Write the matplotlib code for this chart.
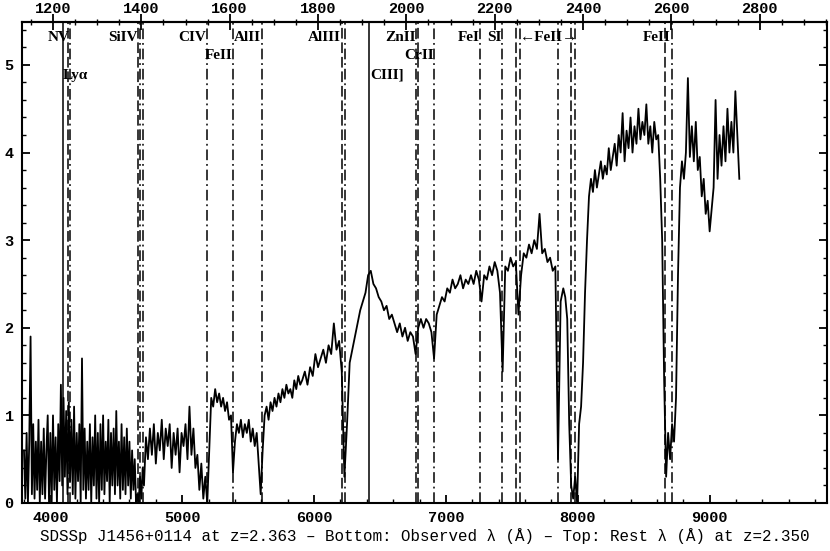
import numpy as np
import matplotlib
matplotlib.use("Agg")
import matplotlib.pyplot as plt
from matplotlib.ticker import MultipleLocator, FixedLocator

# spectrum in four chunks: (start A, step A, flux)
blue_start, blue_step = 3800, 10
blue_flux = [0.6, 0.05, 0.8, 0.0, 0.7, 1.9, 0.1, 0.9, 0.05, 0.7,
             0.15, 0.95, 0.0, 0.7, 0.1, 0.85, 0.05, 0.6, 1.0, 0.0,
             0.8, 0.0, 1.0, 0.15, 0.75, 0.0, 0.9, 0.25, 1.35, 0.2,
             1.2, 0.3, 1.05, 0.1, 1.15, 0.25, 0.95, 0.1, 1.1, 0.05,
             0.8, 0.25, 0.9, 0.0, 1.65, 0.15, 0.85, 0.05, 0.7, 0.15,
             0.9, 0.0, 0.75, 0.2, 1.0, 0.05, 0.8, 0.0, 0.9, 0.15,
             1.0, 0.1, 0.7, 0.25, 0.95, 0.0, 0.8, 0.2, 0.85, 0.1,
             1.05, 0.2, 0.7, 0.05, 0.9, 0.15, 0.75, 0.1, 0.85, 0.2,
             0.7, 0.05, 0.6, 0.15, 0.5, 0.0, 0.1, 0.0, 0.3, 0.05, 0.4]

green_start, green_step = 4710, 15
green_flux = [0.2, 0.75, 0.5, 0.85, 0.55, 0.9, 0.45, 0.8, 0.6, 0.95,
              0.5, 0.85, 0.65, 0.9, 0.4, 0.8, 0.55, 0.85, 0.35, 0.8,
              0.65, 0.9, 0.5, 1.1, 0.55, 0.85, 0.4, 0.55, 0.15, 0.45,
              0.05, 0.3, 0.0, 0.6, 1.2, 1.1, 1.3, 1.15, 1.25, 1.1,
              1.2, 1.05, 1.15, 0.95, 1.0, 0.35, 0.7, 0.9, 0.8, 0.95,
              0.75, 0.9, 0.8, 0.95, 0.7, 0.85, 0.65, 0.8, 0.45, 0.1,
              0.6, 1.0, 1.1, 0.95, 1.15, 1.05, 1.2, 1.1, 1.25, 1.15,
              1.3, 1.2, 1.35, 1.25, 1.3, 1.2, 1.4, 1.3, 1.45, 1.35]

red_start, red_step = 5910, 20
red_flux = [1.4, 1.5, 1.35, 1.55, 1.45, 1.7, 1.55, 1.65, 1.75, 1.6,
            1.8, 1.7, 2.05, 1.75, 1.85, 1.5, 0.3, 0.9, 1.6, 1.75,
            1.9, 2.05, 2.2, 2.3, 2.4, 2.6, 2.65, 2.5, 2.45, 2.35,
            2.3, 2.2, 2.25, 2.1, 2.15, 2.05, 1.95, 2.05, 1.9, 2.0,
            1.85, 1.95, 1.9, 1.7, 2.0, 2.1, 2.0, 2.1, 2.05, 1.95,
            1.65, 2.15, 2.25, 2.35, 2.3, 2.45, 2.4, 2.55, 2.45, 2.5,
            2.6, 2.45, 2.55, 2.5, 2.6, 2.5, 2.65, 2.55, 2.3, 2.6,
            2.55, 2.7, 2.6, 2.75, 2.65, 2.4, 1.5, 2.7, 2.65, 2.8,
            2.7, 2.75, 2.15, 2.6, 2.85, 2.8, 2.95, 2.85, 3.0, 2.9,
            3.3, 2.85, 2.9, 2.75, 2.8, 2.65, 2.7, 0.5, 2.3, 2.45]

ir_start, ir_step = 7905, 15
ir_flux = [2.35, 2.1, 0.9, 0.2, 0.05, 0.3, 0.0, 0.9, 1.1, 1.6,
           2.4, 3.0, 3.5, 3.7, 3.55, 3.8, 3.6, 3.75, 3.9, 3.7,
           3.85, 3.75, 4.05, 3.8, 3.95, 4.1, 3.85, 4.2, 4.0, 4.45,
           3.9, 4.25, 4.05, 4.4, 4.0, 4.3, 4.1, 4.5, 4.15, 4.35,
           4.2, 4.55, 4.1, 4.3, 4.0, 4.35, 4.15, 4.2, 3.7, 3.0,
           1.4, 0.3, 0.8, 0.5, 0.9, 0.7, 1.2, 2.6, 3.6, 3.9,
           3.7, 4.0, 4.85, 3.95, 4.3, 3.9, 4.35, 3.8, 3.95, 3.5,
           3.7, 3.3, 3.45, 3.1, 3.35, 3.6, 4.6, 3.7, 4.2, 3.85,
           4.3, 3.9, 4.5, 4.0, 4.35, 4.0, 4.7, 4.2, 3.7]

# marked lines (observed A)
emission_lam = [4093, 6417]
system1_lam = [4136, 4667, 6210, 6785, 7532, 7947, 8658]
system2_lam = [4149, 4680, 4700, 5186, 5385, 5603, 6235, 6774, 6910,
               7259, 7424, 7563, 7853, 7980, 8714]

label_text = ["NV", "Ly\u03b1", "SiIV", "CIV", "FeII", "AlII", "AlIII", "CIII]",
              "ZnII", "CrII", "FeI", "SI", "\u2190FeII\u2192", "FeII"]
label_lam = [4149, 4095, 4665, 5180, 5385, 5598, 6203, 6425,
             6774, 6910, 7259, 7420, 7783, 8706]

z_top = 2.350
rest_ticks = [1200, 1400, 1600, 1800, 2000, 2200, 2400, 2600, 2800]

# layout of the labels
label_row = [0, 2, 0, 0, 1, 0, 0, 2, 0, 1, 0, 0, 0, 0]
label_ha = ['right', 'left', 'right', 'right', 'right', 'right', 'right', 'left',
            'right', 'right', 'right', 'right', 'center', 'right']
row_y = [5.31, 5.11, 4.88]


def chunk(start, step, flux):
    return start + step * np.arange(len(flux)), np.array(flux)


lam = []
flux = []
for s, st, f in [(blue_start, blue_step, blue_flux), (green_start, green_step, green_flux),
                 (red_start, red_step, red_flux), (ir_start, ir_step, ir_flux)]:
    l, v = chunk(s, st, f)
    lam.append(l)
    flux.append(v)
lam = np.concatenate(lam)
flux = np.concatenate(flux)

mono = ['Liberation Mono', 'DejaVu Sans Mono']
serif = ['Liberation Serif', 'DejaVu Serif']

fig = plt.figure(figsize=(8.3, 5.51), dpi=100)
ax = fig.add_axes([22 / 830, 48 / 551, 805 / 830, 481 / 551])

ax.plot(lam, flux, color='black', lw=1.3)

for l in emission_lam:
    ax.axvline(l, color='black', lw=1.1, ls='-')
for l in system1_lam:
    ax.axvline(l, color='black', lw=1.1, ls=(0, (7, 2.5)))
for l in system2_lam:
    ax.axvline(l, color='black', lw=1.1, ls=(0, (7, 2.5, 1.2, 2.5)))

for t, l, r, ha in zip(label_text, label_lam, label_row, label_ha):
    ax.text(l, row_y[r], t, ha=ha, va='center', fontsize=11, fontweight='bold',
            family=serif)

ax.set_xlim(3785, 9890)
ax.set_ylim(0, 5.49)

for sp in ax.spines.values():
    sp.set_linewidth(1.5)

ax.xaxis.set_major_locator(MultipleLocator(1000))
ax.xaxis.set_minor_locator(MultipleLocator(200))
ax.yaxis.set_major_locator(MultipleLocator(1))
ax.yaxis.set_minor_locator(MultipleLocator(0.2))
ax.tick_params(which='both', direction='in', top=False, right=True)
ax.tick_params(which='major', length=6, width=1.3, pad=6)
ax.tick_params(which='minor', length=3, width=1.0)

top = ax.secondary_xaxis('top', functions=(lambda x: x / (1 + z_top), lambda x: x * (1 + z_top)))
top.xaxis.set_major_locator(FixedLocator(rest_ticks))
top.xaxis.set_minor_locator(FixedLocator(np.arange(1150, 2951, 50)))
top.tick_params(which='both', direction='inout')
top.tick_params(which='major', length=11, width=1.3, pad=-1.5)
top.tick_params(which='minor', length=5, width=1.0)
top.spines['top'].set_linewidth(1.5)

for lab in ax.get_xticklabels() + ax.get_yticklabels() + top.get_xticklabels():
    lab.set_family(mono)
    lab.set_fontweight('bold')
    lab.set_fontsize(11)

fig.text(425 / 830, 1 - 536 / 551,
         "SDSSp J1456+0114 at z=2.363 \u2013 Bottom: Observed \u03bb (\u00c5) \u2013 Top: Rest \u03bb (\u00c5) at z=2.350",
         ha='center', va='center', fontsize=11.4, family=mono)

fig.savefig('out.png', dpi=100)
